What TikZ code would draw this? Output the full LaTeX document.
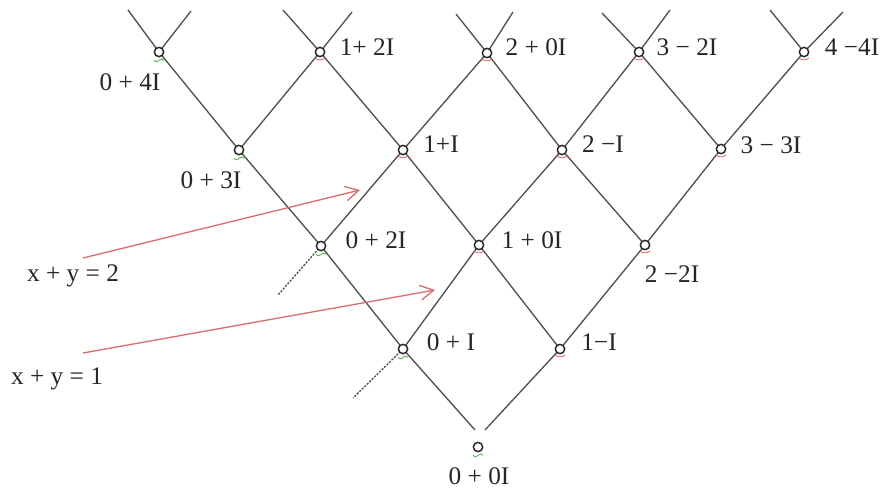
\documentclass[tikz,border=0pt]{standalone}
\usepackage{fontspec}
\setmainfont{Liberation Serif}
\usetikzlibrary{arrows.meta}
\definecolor{ln}{RGB}{80,80,80}
\definecolor{arr}{RGB}{214,112,112}
\definecolor{mkr}{RGB}{230,95,95}
\definecolor{mkg}{RGB}{70,175,70}
\pgfdeclarelayer{bg}
\pgfsetlayers{bg,main}
\begin{document}
\begin{tikzpicture}[x=0.75pt,y=-0.75pt,
  pt/.style={circle,draw=black!85,fill=white,line width=1.1pt,inner sep=0pt,minimum size=7pt},
  lab/.style={font=\fontsize{19}{21}\selectfont,inner sep=0pt,text=black!85},
  gridline/.style={draw=ln,line width=1pt},
  extline/.style={draw=ln,line width=1pt,dash pattern=on 1.6pt off 1pt},
  arw/.style={draw=arr,line width=1pt,-{Straight Barb[length=10pt,width=11pt]}},
  mkred/.style={draw=mkr,line width=0.6pt},
  mkgreen/.style={draw=mkg,line width=0.6pt}]
\useasboundingbox (0,0) rectangle (887,490);

% lattice points
\node[pt] (p04) at (159,52) {};
\node[pt] (p12) at (320,52) {};
\node[pt] (p20) at (487,53) {};
\node[pt] (p3m2) at (639,52) {};
\node[pt] (p4m4) at (804,52) {};
\node[pt] (p03) at (239,150) {};
\node[pt] (p11) at (403,150) {};
\node[pt] (p2m1) at (562,150) {};
\node[pt] (p3m3) at (721,149) {};
\node[pt] (p02) at (321,246) {};
\node[pt] (p10) at (479,245) {};
\node[pt] (p2m2) at (645,245) {};
\node[pt] (p01) at (403,349) {};
\node[pt] (p1m1) at (560,349) {};
\node[pt] (p00) at (478,447) {};

% free ends
\coordinate (t1) at (128,10);
\coordinate (t2) at (283,10);
\coordinate (t3) at (456,14);
\coordinate (t4) at (602,13);
\coordinate (t5) at (770,10);
\coordinate (b1) at (475,430);
\coordinate (b0) at (485,430);
\coordinate (u0) at (843,12);
\coordinate (u1) at (670,10);
\coordinate (u2) at (513,12);
\coordinate (u3) at (352,12);
\coordinate (u4) at (191,11);
\coordinate (d1) at (353,398);
\coordinate (d2) at (278,295);

\begin{pgfonlayer}{bg}
% down-right lines
\draw[gridline] (t1) -- (p04.center) -- (p03.center) -- (p02.center) -- (p01.center) -- (b1);
\draw[gridline] (t2) -- (p12.center) -- (p11.center) -- (p10.center) -- (p1m1.center);
\draw[gridline] (t3) -- (p20.center) -- (p2m1.center) -- (p2m2.center);
\draw[gridline] (t4) -- (p3m2.center) -- (p3m3.center);
\draw[gridline] (t5) -- (p4m4);
% up-right lines
\draw[gridline] (b0) -- (p1m1.center) -- (p2m2.center) -- (p3m3.center) -- (p4m4.center) -- (u0);
\draw[gridline] (p01.center) -- (p10.center) -- (p2m1.center) -- (p3m2.center) -- (u1);
\draw[gridline] (p02.center) -- (p11.center) -- (p20.center) -- (u2);
\draw[gridline] (p03.center) -- (p12.center) -- (u3);
\draw[gridline] (p04.center) -- (u4);
% dashed extensions
\draw[extline] (p01.center) -- (d1);
\draw[extline] (p02.center) -- (d2);
\end{pgfonlayer}

% small marks under the points
\foreach \p in {p04,p03,p02,p01,p00}
  \draw[mkgreen] (\p.south) ++(-5,3) sin ++(2.5,1.5) cos ++(2.5,-1.5) sin ++(2.5,-1.5) cos ++(2.5,1.5);
\foreach \p in {p12,p20,p3m2,p4m4,p11,p2m1,p3m3,p10,p2m2,p1m1}
  \draw[mkred] (\p.south) ++(-5,0.5) .. controls ++(2,2.5) and ++(-2,2.5) .. ++(10,0);

% labels
\node[lab] (l04) at (130,82) {0 + 4I};
\node[lab] (l03) at (211,180) {0 + 3I};
\node[lab] (l12) at (367,47) {1+ 2I};
\node[lab] (l20) at (536,47) {2 + 0I};
\node[lab] (l3m2) at (687,47) {3 − 2I};
\node[lab] (l4m4) at (852,47) {4 −4I};
\node[lab] (l11) at (441,144) {1+I};
\node[lab] (l2m1) at (603,144) {2 −I};
\node[lab] (l3m3) at (771,145) {3 − 3I};
\node[lab] (l02) at (376,240) {0 + 2I};
\node[lab] (l10) at (532,240) {1 + 0I};
\node[lab] (l2m2) at (672,274) {2 −2I};
\node[lab] (l01) at (451,342) {0 + I};
\node[lab] (l1m1) at (599,342) {1−I};
\node[lab] (l00) at (479,476) {0 + 0I};

% equations with arrows
\node[lab] (e2) at (73,276) {x + y = 2};
\node[lab] (e1) at (57,379) {x + y = 1};
\coordinate (a2s) at (83,258);
\coordinate (a2e) at (360,190);
\coordinate (a1s) at (83,353);
\coordinate (a1e) at (435,290);
\draw[arw] (a2s) -- (a2e);
\draw[arw] (a1s) -- (a1e);
\end{tikzpicture}
\end{document}
